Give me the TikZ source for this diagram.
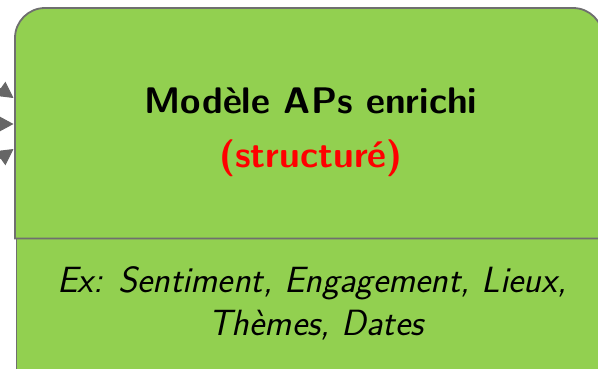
\documentclass[tikz,border=0pt]{standalone}
\usetikzlibrary{arrows.meta}
\definecolor{boxgreen}{HTML}{92D050}
\definecolor{edgegray}{HTML}{6F6F6F}
\definecolor{arrowgray}{HTML}{666666}
\definecolor{accentred}{HTML}{FF0000}
\begin{document}
\begin{tikzpicture}[x=1pt,y=1pt,
  panel/.style={fill=boxgreen,draw=edgegray,line width=1.8pt},
  titletext/.style={font=\sffamily\bfseries\fontsize{37}{44}\selectfont,anchor=base,inner sep=0},
  bodytext/.style={font=\sffamily\itshape\fontsize{36.5}{43}\selectfont,anchor=base,inner sep=0},
  feed/.style={draw=arrowgray,fill=arrowgray,line width=1pt,-{Triangle[length=16pt,width=17pt]}}]
\useasboundingbox (0,0) rectangle (598,368);
\clip (0,0) rectangle (598,368);
% lower panel (details)
\draw[panel] (16.5,129.5) rectangle (620,-20);
% upper panel with rounded top corners
\draw[panel] (15,129.5) -- (15,330) arc(180:90:30) -- (573,360) arc(90:0:30) -- (603,129.5) -- cycle;
% labels
\node[titletext] (title) at (311,255) {Modèle APs enrichi};
\node[titletext,text=accentred] (sub) at (311,201) {(structuré)};
\node[bodytext] (ex1) at (312,76) {Ex: Sentiment, Engagement, Lieux,};
\node[bodytext] (ex2) at (316,33) {Thèmes, Dates};
% incoming connectors
\coordinate (inA) at (13.5,270);
\coordinate (inB) at (13.5,244);
\coordinate (inC) at (13.5,219);
\coordinate (srcA) at (-60,322);
\coordinate (srcB) at (-60,244);
\coordinate (srcC) at (-60,167);
\draw[feed] (srcA) -- (inA);
\draw[feed] (srcB) -- (inB);
\draw[feed] (srcC) -- (inC);
\end{tikzpicture}
\end{document}
